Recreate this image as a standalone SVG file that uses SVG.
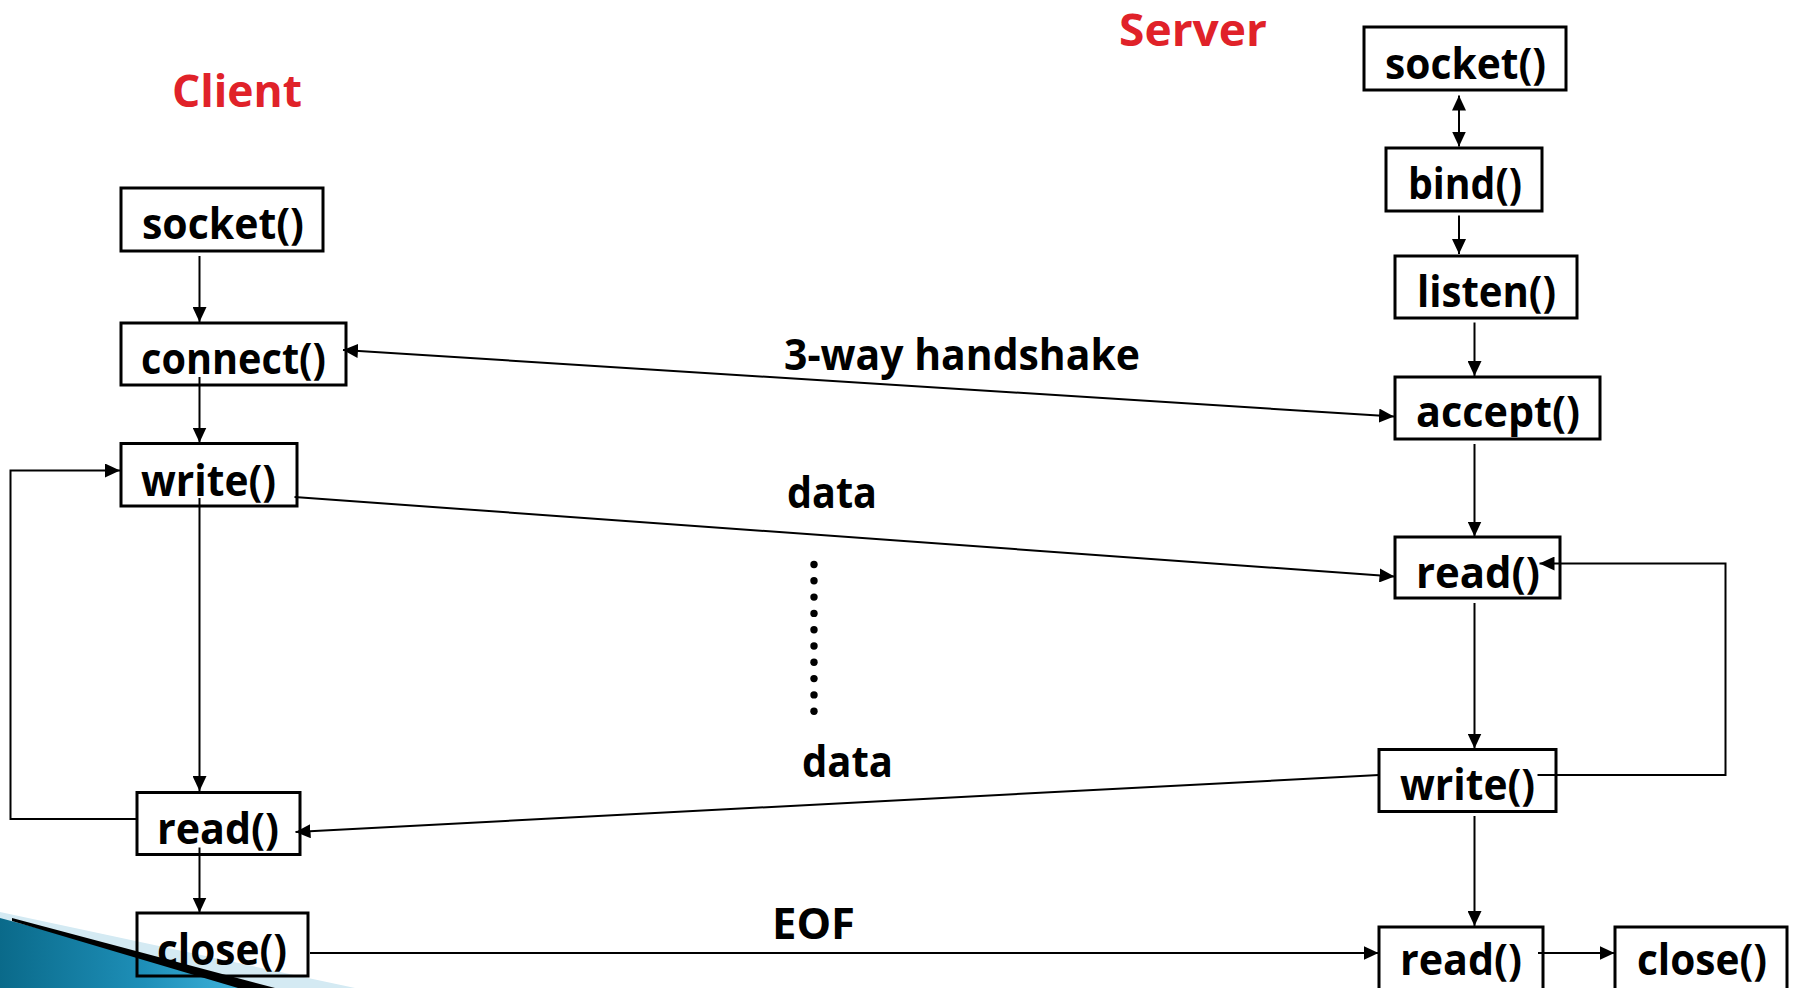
<svg xmlns="http://www.w3.org/2000/svg" width="1793" height="988" viewBox="0 0 1793 988">
  <style>
    .box { fill: none; stroke: #000000; stroke-width: 3; }
    .lbl { font-family: "Open Sans", "DejaVu Sans", sans-serif; font-weight: bold; font-size: 43px; fill: #000000; }
    .title { font-family: "Open Sans", "DejaVu Sans", sans-serif; font-weight: bold; font-size: 44px; fill: #E02229; }
    .wire { fill: none; stroke: #000000; stroke-width: 2; }
    .arrow { marker-end: url(#head); }
    .both { marker-start: url(#head); marker-end: url(#head); }
  </style>
  <defs>
    <marker id="head" viewBox="0 0 15 14" refX="15" refY="7" markerWidth="15" markerHeight="14" markerUnits="userSpaceOnUse" orient="auto-start-reverse">
      <path d="M0,0 L15,7 L0,14 Z" fill="#000000"/>
    </marker>
    <linearGradient id="teal" x1="0" y1="0" x2="1" y2="0">
      <stop offset="0" stop-color="#0a6a8a"/>
      <stop offset="0.55" stop-color="#1e8fb8"/>
      <stop offset="1" stop-color="#45b8e0"/>
    </linearGradient>
  </defs>

  <rect width="1793" height="988" fill="#ffffff"/>

  <!-- corner ornament -->
  <g id="corner">
    <polygon points="0,912 355,988 0,988" fill="#d4eaf3"/>
    <polygon points="0,918 262,988 0,988" fill="url(#teal)"/>
    <polygon points="12,918 275,988 238,988 12,921" fill="#000000"/>
  </g>

  <!-- side titles -->
  <text class="title" x="172" y="107" textLength="130" lengthAdjust="spacingAndGlyphs">Client</text>
  <text class="title" x="1119" y="46" textLength="148" lengthAdjust="spacingAndGlyphs">Server</text>

  <!-- client calls -->
  <g id="c_socket">
    <rect class="box" x="121" y="188" width="202" height="63"/>
    <text class="lbl" x="142" y="239" textLength="162" lengthAdjust="spacingAndGlyphs">socket()</text>
  </g>
  <g id="c_connect">
    <rect class="box" x="121" y="323" width="225" height="62"/>
    <text class="lbl" x="141" y="374" textLength="185" lengthAdjust="spacingAndGlyphs">connect()</text>
  </g>
  <g id="c_write">
    <rect class="box" x="121" y="443.5" width="176" height="62.5"/>
    <text class="lbl" x="141" y="496" textLength="135" lengthAdjust="spacingAndGlyphs">write()</text>
  </g>
  <g id="c_read">
    <rect class="box" x="137" y="792.5" width="163" height="62"/>
    <text class="lbl" x="157" y="844" textLength="122" lengthAdjust="spacingAndGlyphs">read()</text>
  </g>
  <g id="c_close">
    <rect class="box" x="137" y="913" width="171" height="63"/>
    <text class="lbl" x="157" y="965" textLength="130" lengthAdjust="spacingAndGlyphs">close()</text>
  </g>

  <!-- server calls -->
  <g id="s_socket">
    <rect class="box" x="1364" y="27" width="202" height="63"/>
    <text class="lbl" x="1385" y="79" textLength="161" lengthAdjust="spacingAndGlyphs">socket()</text>
  </g>
  <g id="s_bind">
    <rect class="box" x="1386" y="148" width="156" height="63"/>
    <text class="lbl" x="1408" y="199" textLength="114" lengthAdjust="spacingAndGlyphs">bind()</text>
  </g>
  <g id="s_listen">
    <rect class="box" x="1395" y="256" width="182" height="62"/>
    <text class="lbl" x="1417" y="307" textLength="139" lengthAdjust="spacingAndGlyphs">listen()</text>
  </g>
  <g id="s_accept">
    <rect class="box" x="1395" y="377" width="205" height="62"/>
    <text class="lbl" x="1416" y="427" textLength="164" lengthAdjust="spacingAndGlyphs">accept()</text>
  </g>
  <g id="s_read">
    <rect class="box" x="1395" y="537" width="165" height="61"/>
    <text class="lbl" x="1416" y="588" textLength="124" lengthAdjust="spacingAndGlyphs">read()</text>
  </g>
  <g id="s_write">
    <rect class="box" x="1379" y="749.5" width="177" height="62"/>
    <text class="lbl" x="1400" y="800" textLength="135" lengthAdjust="spacingAndGlyphs">write()</text>
  </g>
  <g id="s_read_eof">
    <rect class="box" x="1379" y="927" width="164" height="70"/>
    <text class="lbl" x="1400" y="975" textLength="122" lengthAdjust="spacingAndGlyphs">read()</text>
  </g>
  <g id="s_close">
    <rect class="box" x="1615" y="927" width="172" height="70"/>
    <text class="lbl" x="1637" y="975" textLength="130" lengthAdjust="spacingAndGlyphs">close()</text>
  </g>

  <!-- connectors -->
  <g id="connectors">
    <!-- client flow -->
    <path class="wire arrow" d="M199.5,256 V322"/>
    <path class="wire arrow" d="M199.5,377 V442.5"/>
    <path class="wire arrow" d="M199.5,498 V791"/>
    <path class="wire arrow" d="M199.5,847.5 V912.5"/>
    <path class="wire arrow" d="M136.5,819 H10.5 V470.5 H120"/>
    <!-- server flow -->
    <path class="wire both" d="M1459,95.5 V146.5"/>
    <path class="wire arrow" d="M1459,215.5 V254"/>
    <path class="wire arrow" d="M1474.5,322.5 V376"/>
    <path class="wire arrow" d="M1474.5,444 V536.5"/>
    <path class="wire arrow" d="M1474.5,603 V748.5"/>
    <path class="wire arrow" d="M1474.5,816 V926"/>
    <path class="wire arrow" d="M1537.5,775 H1725.5 V563.5 H1539.5"/>
    <path class="wire arrow" d="M1538,953 H1614.5"/>
    <!-- messages between the two sides -->
    <path class="wire both" d="M343,350 L1394,416.5"/>
    <path class="wire arrow" d="M294.5,497 L1394.5,576.5"/>
    <path class="wire arrow" d="M1379,775 L295.5,832"/>
    <path class="wire arrow" d="M310,953 H1378.5"/>
  </g>

  <!-- message labels -->
  <text class="lbl" x="784" y="370" textLength="356" lengthAdjust="spacingAndGlyphs">3-way handshake</text>
  <text class="lbl" x="787" y="508" textLength="90" lengthAdjust="spacingAndGlyphs">data</text>
  <text class="lbl" x="802" y="777" textLength="91" lengthAdjust="spacingAndGlyphs">data</text>
  <text class="lbl" x="772" y="939" textLength="83" lengthAdjust="spacingAndGlyphs">EOF</text>

  <!-- ellipsis between the data exchanges -->
  <g id="ellipsis" fill="#000000">
    <circle cx="814" cy="564.5" r="3.7"/>
    <circle cx="814" cy="580.8" r="3.7"/>
    <circle cx="814" cy="597.1" r="3.7"/>
    <circle cx="814" cy="613.4" r="3.7"/>
    <circle cx="814" cy="629.7" r="3.7"/>
    <circle cx="814" cy="646.0" r="3.7"/>
    <circle cx="814" cy="662.3" r="3.7"/>
    <circle cx="814" cy="678.6" r="3.7"/>
    <circle cx="814" cy="694.9" r="3.7"/>
    <circle cx="814" cy="711.2" r="3.7"/>
  </g>
</svg>
